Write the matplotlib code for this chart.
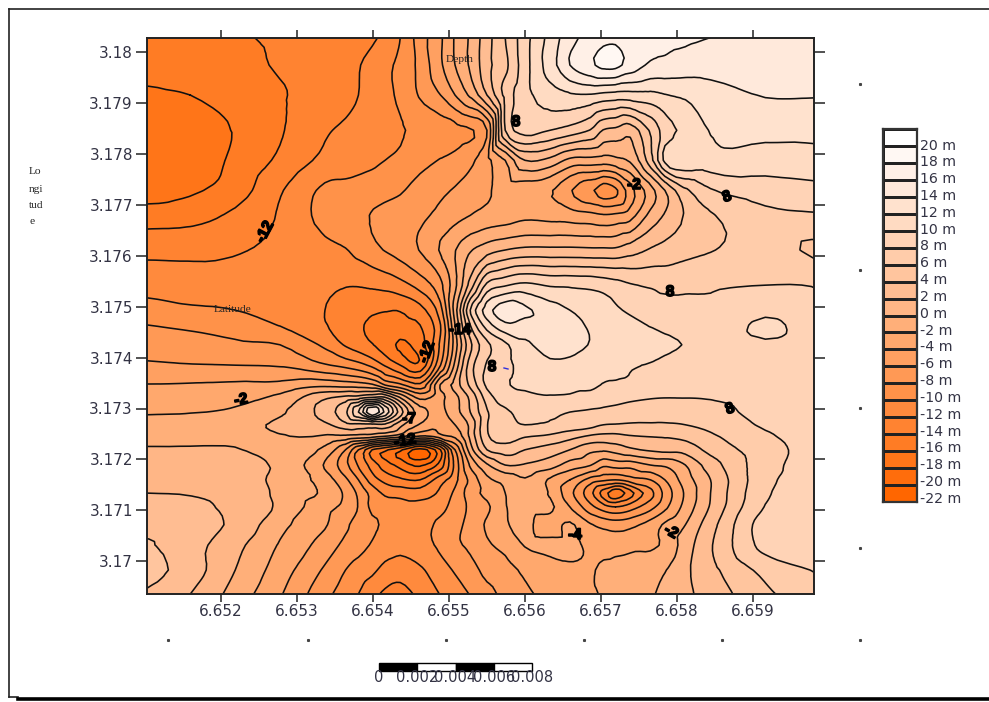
import numpy as np
import matplotlib
matplotlib.use("Agg")
import matplotlib.pyplot as plt
import matplotlib.tri as mtri
import matplotlib.patheffects as pe
from matplotlib.colors import LinearSegmentedColormap, BoundaryNorm
from matplotlib.lines import Line2D
from matplotlib.patches import Rectangle

W, H = 989, 702
SANS = "DejaVu Sans"
SERIF = "Liberation Serif"

longitudes = [6.65103, 6.65160, 6.65219, 6.65278, 6.65337, 6.65364, 6.65381, 6.65399, 6.65416, 6.65436,
              6.65462, 6.65489, 6.65508, 6.65528, 6.65550, 6.65574, 6.65600, 6.65633, 6.65659, 6.65686,
              6.65703, 6.65719, 6.65738, 6.65765, 6.65784, 6.65811, 6.65844, 6.65916, 6.65980]
latitudes = [3.18028, 3.17974, 3.17915, 3.17846, 3.17787, 3.17728, 3.17679, 3.17611, 3.17542, 3.17493,
             3.17464, 3.17425, 3.17385, 3.17346, 3.17323, 3.17293, 3.17268, 3.17246, 3.17219, 3.17189,
             3.17160, 3.17134, 3.17107, 3.17072, 3.17032, 3.16983, 3.16936]
depth = [
 [-15.6,-15,-14.2,-13.7,-13.1,-12.8,-12.6,-12.3,-11.5,-10,-7,-4.3,-1.8,0.3,3.2,6,9.2,12.7,15.2,16.8,17.4,17.6,17.3,16.8,16.5,16.3,16,15.5,15.2],
 [-15.3,-15,-14.6,-13.8,-13.1,-12.6,-12.1,-11.4,-10.5,-9.5,-7.4,-4.3,-2,0.3,3.3,5.5,9.2,13,16,17.6,18.6,18.6,17.2,15.7,15.5,15.2,15,14.8,14.7],
 [-16.3,-16,-15.2,-14.2,-13,-12.5,-12,-11.2,-10.5,-9.6,-7.8,-6,-4,-1.6,2,6.6,9.3,11,11.7,11.8,11.4,11.2,11.2,11.4,11.9,12.3,13,14.1,14.1],
 [-16.8,-16.5,-15.9,-14.2,-12.2,-11.7,-11.3,-10.9,-10.6,-10.2,-9.5,-9,-8.7,-8.2,-6,6,8.9,8,7.2,5.9,3.9,3.5,2.8,6.3,8.9,10.5,12.1,12.6,12.6],
 [-17,-17,-15.6,-13.6,-11.5,-11,-10.7,-10.4,-10,-9.6,-8.6,-7.9,-7.4,-6.4,-4.6,-2,2,1.4,-0.5,-0.7,-0.9,-0.5,0.3,5.2,10.5,11.8,11.3,11,11.2],
 [-17,-16.3,-15,-12.2,-9.6,-9.4,-9.2,-8.9,-8.6,-8.2,-7.2,-6.4,-5.8,-5,-4.3,-3,-3.2,-3.8,-5.8,-7.6,-9,-8.4,-4.9,-0.8,2,5.6,7.8,9,9.4],
 [-15,-14.7,-13.6,-11.8,-9.3,-8.7,-8.4,-7.9,-7.5,-7.2,-6.4,-5.5,-4.7,-4,-3.4,-3,-2.5,-2.7,-3,-3.4,-3.8,-3.6,-2.9,0.6,2.2,4.2,5.8,7.5,7.8],
 [-12.6,-12.6,-12.2,-11.4,-10.5,-10.1,-9.4,-8.6,-7.9,-7.2,-5.9,-3.8,-2.1,-0.2,1.1,2,2.5,2.5,2.5,2.4,2.4,2.4,3.1,4.2,4.7,5.4,5.9,6.7,5.7],
 [-10.6,-10.8,-11,-11,-11.6,-11.9,-11.9,-11.7,-11.4,-10.7,-9.2,-6.5,-2.5,2.8,8.5,9.8,10.5,9.8,9.7,9.5,9.2,8.8,8.2,7.8,7.5,7.6,7.7,8,7.9],
 [-9.3,-9.7,-10,-10.7,-12,-12.7,-13.2,-13.7,-13.9,-13.9,-12.7,-8.7,-1,8,13,15.2,14.4,12.8,12,11.3,10.9,10.3,9.7,9,8.8,8.6,8.5,9.6,8.7],
 [-8,-8.4,-9,-10.1,-11.9,-12.7,-13.7,-14.3,-14.5,-14.5,-14,-10,-2,6,11,13.6,13.2,13,12.5,11.8,11.4,11,10.5,9.9,9.5,9.1,8.9,10.3,9.2],
 [-6.9,-7.2,-7.6,-8,-10.4,-12.2,-13,-13.9,-14.9,-16.3,-14.8,-9.5,-3,3.5,7.5,9.6,11.6,12.8,12.6,11.9,11.3,11,10.8,10.6,10.4,9.9,9.1,9.8,9.2],
 [-5.7,-5.9,-6,-6.2,-7.8,-8.6,-9.3,-10.5,-12.2,-14,-15.5,-8,-1.5,5,8.2,9.5,10.6,11.6,11.5,10.9,10.6,10.3,10.1,9.9,9.5,9,8.7,9,9],
 [-3.9,-3.8,-3.6,-3.4,-2.5,-2.8,-3,-3.6,-6,-7.5,-9.5,-1.8,0.8,4.4,8.4,9.8,10.3,10.4,10.4,10.4,9.9,9.8,9.7,9.4,9.2,8.9,8.8,9,9],
 [-3,-2.9,-2.5,-1.6,1.5,2.3,2.5,3.4,3.6,-0.5,-4.8,-2.6,-0.6,2.5,7,9.2,9.6,9.9,9.8,9.4,9,8.8,8.5,8.2,8.1,8.1,8.2,9,9],
 [-2.2,-2.1,-1.7,-0.3,3,5.6,10,16,11.5,5,-1.2,-2.4,-0.8,2,5.8,7.6,8.6,8.3,8,7.7,7.5,7.3,7,6.8,6.8,6.9,7.1,8.9,9],
 [-1.2,-0.8,-0.5,0.3,1.6,3.3,3.4,3.4,3.5,0.6,-2.2,-3.4,-2,0.5,5.9,7.3,8,7.7,7.2,6.7,6,5.9,5.8,5.8,5.8,6,6.5,8.3,9],
 [-0.7,-0.6,-0.4,-0.1,-0.2,-0.3,-0.6,-0.9,-1.8,-3,-6,-4.5,-3.5,0.5,5.7,6.9,6.2,5.7,4.8,3.8,3.5,3.5,3.9,4.1,4.2,4.6,5.7,7.7,8.9],
 [0.2,0.2,0.1,-0.7,-2.6,-6,-10,-14,-15.6,-17.6,-20.8,-16,-8,-1,4,5,4,3,2,0.5,0.3,0.8,1.6,2.3,2.6,2.8,4.6,7.2,8.7],
 [0.8,0.8,0.6,-0.4,-4.2,-7.4,-10.2,-12.8,-15,-16.6,-18.3,-15,-9.4,-3.7,-0.3,2,1.8,0.9,-0.9,-1.9,-3.6,-3.2,-3.2,-2,-1.7,0,3,7.2,9],
 [1.4,1.4,1.2,-0.7,-3,-5.6,-8,-11,-12.6,-13.6,-14,-10.8,-8.6,-5.5,-2.5,-1.4,-0.2,-2.3,-4,-6.8,-7.6,-8,-7,-6,-4,-1,2,7.4,9],
 [2,1.9,1.4,-0.5,-2.4,-4.4,-6.4,-8.7,-10.4,-10.7,-11,-9.6,-7.6,-5,-3.4,-2,-1,-2.2,-5.4,-9.4,-12.8,-15.5,-12.8,-8.6,-5.4,-1.7,2,7.7,9],
 [2.6,2.4,1.5,-0.4,-3.4,-4.6,-6.1,-8.5,-9,-9.3,-9.3,-8.6,-7.2,-5.6,-4.4,-2.1,-1.4,-1.6,-4,-7.4,-9.1,-10,-9,-6.7,-4.5,-1.3,2.2,8.1,9],
 [3.4,3.2,1.5,-1.4,-3.8,-5.6,-6.9,-7.6,-8.3,-8.8,-8.6,-7.6,-6.6,-5.4,-3.7,-2.2,-1.7,-2.8,-1.7,-3.8,-4.6,-5,-4.6,-3.2,-1.7,0,3.2,9,9.2],
 [4.2,2.8,0.6,-2.2,-4.9,-6.5,-7.2,-8.2,-9,-9.3,-8.7,-7.6,-6.4,-5.6,-4.3,-3.4,-1.9,-1.6,-1.6,-2.4,-2.9,-2.8,-2.6,-2.4,-1.6,1,3.8,8.7,9.3],
 [4.8,3,0,-3,-6.3,-8,-8.9,-9.6,-10.6,-11.2,-10.3,-8.8,-7.8,-6.8,-5.4,-4.8,-3.6,-2.8,-2.3,-2.2,-1.6,-1.4,-1,-0.5,-0.1,1.6,3.4,6.6,8.1],
 [3.7,2,-0.8,-3.8,-7.4,-9,-10,-11.3,-12.4,-12.7,-11.5,-9.9,-8.9,-7.9,-6.6,-5.5,-4.4,-3.4,-2.9,-2.3,-1.8,-1.4,-0.9,-0.2,0.5,1.6,2.8,5.6,7.2],
]
levels = list(range(-22, 24, 2))
legend_labels = ["20 m", "18 m", "16 m", "14 m", "12 m", "10 m", "8 m", "6 m", "4 m", "2 m", "0 m",
                 "-2 m", "-4 m", "-6 m", "-8 m", "-10 m", "-12 m", "-14 m", "-16 m", "-18 m", "-20 m", "-22 m"]
x_ticks = [6.652, 6.653, 6.654, 6.655, 6.656, 6.657, 6.658, 6.659]
x_tick_labels = ["6.652", "6.653", "6.654", "6.655", "6.656", "6.657", "6.658", "6.659"]
y_ticks = [3.17, 3.171, 3.172, 3.173, 3.174, 3.175, 3.176, 3.177, 3.178, 3.179, 3.18]
y_tick_labels = ["3.17", "3.171", "3.172", "3.173", "3.174", "3.175", "3.176", "3.177", "3.178", "3.179", "3.18"]
contour_labels = ["-12", "8", "-2", "8", "8", "-14", "-12", "8", "-2", "-7", "-12", "-4", "-2", "8"]
scale_labels = ["0", "0.002", "0.004", "0.006", "0.008"]

def fx(px):
    return px / W

def fy(py):
    return 1 - py / H

fig = plt.figure(figsize=(W / 100, H / 100), dpi=100, facecolor="white")
ax = fig.add_axes([fx(147), fy(594), (814 - 147) / W, (594 - 37.5) / H])

cmap = LinearSegmentedColormap.from_list("depth", ["#FF6600", "#FFFFFF"], N=len(levels) - 1)
norm = BoundaryNorm(levels, cmap.N)

lon, lat = np.meshgrid(longitudes, latitudes)
tri = mtri.Triangulation(lon.ravel(), lat.ravel())
refiner = mtri.UniformTriRefiner(tri)
tri_fine, z_fine = refiner.refine_field(np.array(depth).ravel(),
                                        triinterpolator=mtri.CubicTriInterpolator(tri, np.array(depth).ravel(), kind="geom"),
                                        subdiv=2)
z_fine = np.clip(z_fine, -21.9, 21.9)
ax.tricontourf(tri_fine, z_fine, levels=levels, cmap=cmap, norm=norm)
ax.tricontour(tri_fine, z_fine, levels=levels[1:-1], colors="#111111", linewidths=1.15, linestyles="solid")

ax.set_xlim(longitudes[0], longitudes[-1])
ax.set_ylim(latitudes[-1], latitudes[0])
ax.set_xticks(x_ticks)
ax.set_xticklabels(x_tick_labels, family=SANS, fontsize=11, color="#333344")
ax.set_yticks(y_ticks)
ax.set_yticklabels(y_tick_labels, family=SANS, fontsize=11, color="#333344")
ax.tick_params(axis="x", length=5.8, width=1.1, top=True, pad=1.5, color="#222222")
ax.tick_params(axis="y", length=8, width=1.1, right=True, pad=2.2, color="#222222")
for s in ax.spines.values():
    s.set_linewidth(1.4)
    s.set_color("#222222")

# contour labels
label_places = [(265, 232, 62), (516, 122, 0), (634, 185, 0), (727, 197, 20), (670, 292, 0),
                (460, 330, 0), (427, 352, 70), (492, 367, 0), (241, 400, 10), (409, 419, 0),
                (405, 441, 10), (575, 535, 0), (671, 532, -30), (730, 409, 20)]
for txt, (px, py, rot) in zip(contour_labels, label_places):
    fig.text(fx(px), fy(py), txt, family="Liberation Sans", fontsize=11, fontweight="bold", color="black", rotation=rot,
             ha="center", va="center",
             path_effects=[pe.withStroke(linewidth=1.2, foreground="black")])

fig.text(fx(460), fy(59), "Depth", family=SERIF, fontsize=8.2, color="#222222", ha="center", va="center")
fig.text(fx(233), fy(309), "Latitude", family=SERIF, fontsize=8.2, color="#222222", ha="center", va="center")
for s, py in zip(["Lo", "ngi", "tud", "e"], [172, 189, 205, 222]):
    fig.text(fx(29), fy(py), s, family=SERIF, fontsize=8.2, color="#222222", ha="left", va="center")

# colour legend
leg = fig.add_axes([fx(883), fy(502), 34 / W, (502 - 129) / H])
edges = np.array(levels, dtype=float)
leg.pcolormesh([0, 1], edges, np.array(levels[:-1], dtype=float).reshape(-1, 1) + 1, cmap=cmap, norm=norm,
               edgecolors="#222222", linewidth=1.0)
leg.set_xlim(0, 1)
leg.set_ylim(edges[0], edges[-1])
leg.set_xticks([])
leg.set_yticks([])
for s in leg.spines.values():
    s.set_linewidth(1.6)
    s.set_color("#333333")
for i, txt in enumerate(legend_labels):
    py = 145.5 + i * (499 - 145.5) / (len(legend_labels) - 1)
    fig.text(fx(920), fy(py), txt, family=SANS, fontsize=10.2, color="#333344", ha="left", va="center")

# frame
fig.add_artist(Line2D([fx(9), fx(9)], [fy(9), fy(697)], color="#222222", lw=1.2))
fig.add_artist(Line2D([fx(9), fx(989)], [fy(9), fy(9)], color="#222222", lw=1.2))
fig.add_artist(Line2D([fx(9), fx(18)], [fy(697), fy(697)], color="#222222", lw=1.2))
fig.add_artist(Line2D([fx(18), fx(989)], [fy(699), fy(699)], color="black", lw=2.6))

# stray marks
for px, py in [(168, 640), (308, 640), (446, 640), (584, 640), (722, 640), (860, 640),
               (860, 84), (860, 270), (860, 408), (860, 548)]:
    fig.add_artist(Line2D([fx(px)], [fy(py)], marker="s", ms=1.2, color="#444444", ls="none"))
fig.add_artist(Line2D([fx(504), fx(508)], [fy(368), fy(369)], color="#3030dd", lw=1))

# scale bar
for i in range(4):
    x0 = 379 + i * 38.25
    fig.add_artist(Rectangle((fx(x0), fy(671)), 38.25 / W, 8 / H, transform=fig.transFigure,
                             facecolor="black" if i % 2 == 0 else "white", edgecolor="black", lw=1))
for i, s in enumerate(scale_labels):
    fig.text(fx(379 + i * 38.25), fy(678), s, family=SANS, fontsize=10.5, color="#333344", ha="center", va="center")

fig.savefig("out.png", dpi=100, facecolor="white")
